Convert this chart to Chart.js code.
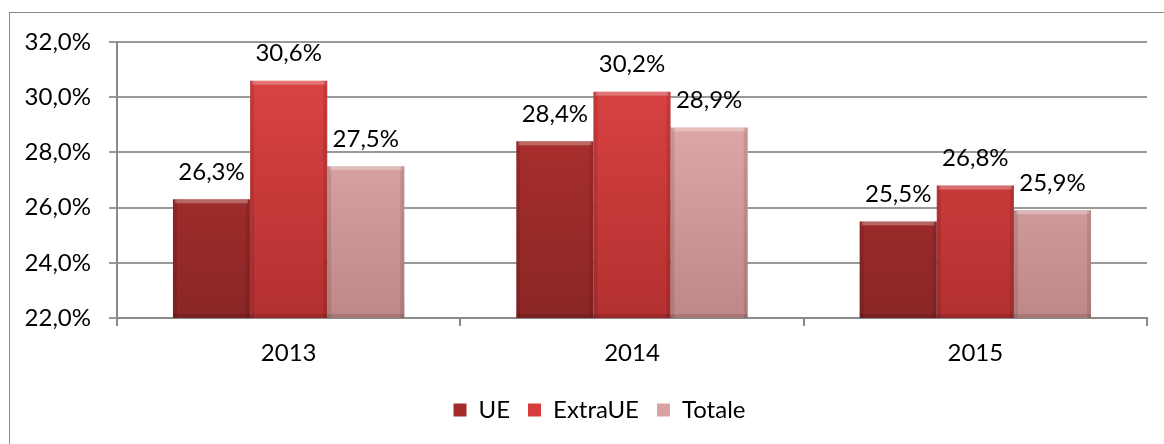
<!DOCTYPE html>
<html>
<head>
<meta charset="utf-8">
<script src="https://cdn.jsdelivr.net/npm/chart.js@4"></script>
<style>
  body { margin: 0; background: #fff; }
  canvas { display: block; }
</style>
</head>
<body>
<canvas id="chart" width="1164" height="444"></canvas>
<script>
var years = ["2013", "2014", "2015"];
var ue = [26.3, 28.4, 25.5];
var extraUe = [30.6, 30.2, 26.8];
var totale = [27.5, 28.9, 25.9];

var FONT = "Lato";

function fmt(v) {
  return v.toFixed(1).replace(".", ",") + "%";
}

// vertical gradient for each series, top colour -> bottom colour
function grad(top, bottom) {
  return function (c) {
    var area = c.chart.chartArea;
    if (!area) return top;
    var g = c.chart.ctx.createLinearGradient(0, area.top, 0, area.bottom);
    g.addColorStop(0, top);
    g.addColorStop(1, bottom);
    return g;
  };
}

var frame = {
  id: "frame",
  beforeDraw: function (chart) {
    var ctx = chart.ctx;
    ctx.save();
    ctx.strokeStyle = "#8a8a8a";
    ctx.lineWidth = 1;
    ctx.strokeRect(9.5, 12.5, 1200, 500);
    ctx.restore();
  },
  // legend sits a bit right of the plot centre in the original
  afterLayout: function (chart) {
    chart.legend.left += 16;
    chart.legend.right += 16;
  }
};

// light top edge and dark sides, like the bevelled bars
var bevel = {
  id: "bevel",
  afterDatasetsDraw: function (chart) {
    var ctx = chart.ctx;
    var area = chart.chartArea;
    ctx.save();
    chart.data.datasets.forEach(function (ds, i) {
      chart.getDatasetMeta(i).data.forEach(function (bar) {
        var l = bar.x - bar.width / 2, r = bar.x + bar.width / 2;
        var t = bar.y, b = Math.min(bar.base, area.bottom);
        ctx.fillStyle = "rgba(255,255,255,0.28)";
        ctx.fillRect(l + 2, t, r - l - 4, 4);
        ctx.fillStyle = "rgba(0,0,0,0.10)";
        ctx.fillRect(l, t, 4, b - t);
        ctx.fillRect(r - 4, t, 4, b - t);
        ctx.fillStyle = "rgba(0,0,0,0.12)";
        ctx.fillRect(l, b - 4, r - l, 4);
      });
    });
    ctx.restore();
  }
};

var valueLabels = {
  id: "valueLabels",
  afterDatasetsDraw: function (chart) {
    var ctx = chart.ctx;
    ctx.save();
    ctx.font = "24px " + FONT;
    ctx.fillStyle = "#000";
    ctx.textAlign = "center";
    ctx.textBaseline = "middle";
    chart.data.datasets.forEach(function (ds, i) {
      chart.getDatasetMeta(i).data.forEach(function (bar, j) {
        ctx.fillText(fmt(ds.data[j]), bar.x, bar.y - 27);
      });
    });
    ctx.restore();
  }
};

var solid = ["#a52c2c", "#d63c3c", "#d9a3a3"];

new Chart(document.getElementById("chart"), {
  type: "bar",
  data: {
    labels: years,
    datasets: [
      { label: "UE", data: ue, backgroundColor: grad("#b8332f", "#8a2626") },
      { label: "ExtraUE", data: extraUe, backgroundColor: grad("#e04545", "#b33030") },
      { label: "Totale", data: totale, backgroundColor: grad("#ebb3b3", "#bf8888") }
    ]
  },
  options: {
    responsive: false,
    animation: false,
    layout: { padding: { left: 20, right: 17, top: 42, bottom: 12 } },
    datasets: { bar: { barPercentage: 1, categoryPercentage: 0.674 } },
    plugins: {
      tooltip: { enabled: false },
      legend: {
        position: "bottom",
        labels: {
          font: { family: FONT, size: 24 },
          color: "#000",
          boxWidth: 13,
          boxHeight: 13,
          padding: 18,
          generateLabels: function (chart) {
            return chart.data.datasets.map(function (ds, i) {
              return { text: ds.label, fillStyle: solid[i], strokeStyle: solid[i], lineWidth: 0, datasetIndex: i };
            });
          }
        }
      }
    },
    scales: {
      x: {
        afterFit: function (s) { s.height = 62; },
        grid: { drawOnChartArea: false, drawTicks: true, tickLength: 8, color: "#8a8a8a", lineWidth: 2 },
        border: { color: "#8a8a8a", width: 2 },
        ticks: { font: { family: FONT, size: 24 }, color: "#000", padding: 13 }
      },
      y: {
        min: 22,
        max: 32,
        afterFit: function (s) { s.width = 97; },
        grid: { color: "#9a9a9a", lineWidth: 2, tickLength: 8 },
        border: { color: "#8a8a8a", width: 2 },
        ticks: {
          stepSize: 2,
          padding: 18,
          font: { family: FONT, size: 24 },
          color: "#000",
          callback: function (v) { return fmt(v); }
        }
      }
    }
  },
  plugins: [frame, bevel, valueLabels]
});
</script>
</body>
</html>
